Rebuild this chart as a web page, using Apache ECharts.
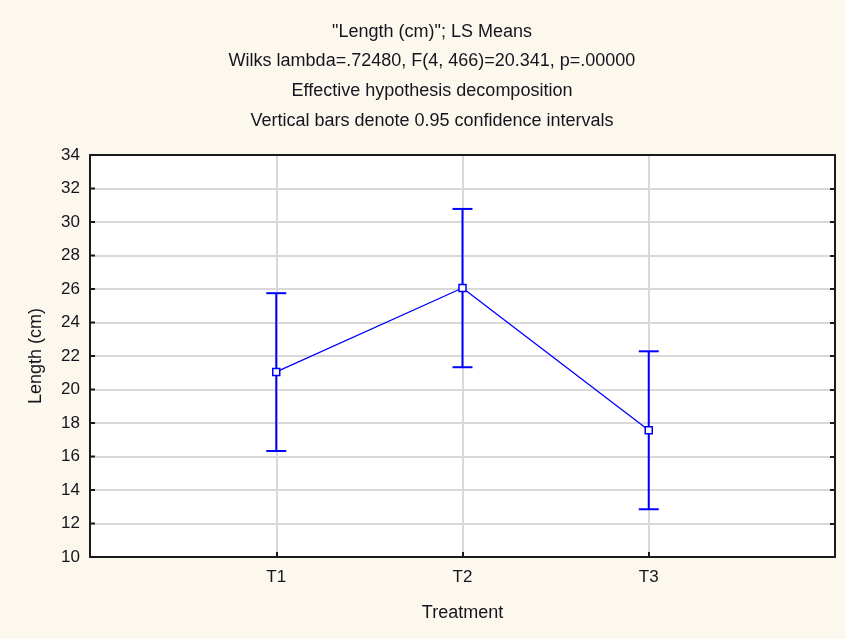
<!DOCTYPE html>
<html>
<head>
<meta charset="utf-8">
<script src="https://cdn.jsdelivr.net/npm/echarts@6/dist/echarts.min.js"></script>
<style>
  html, body { margin: 0; padding: 0; background: #fdf8ed; }
  #chart { width: 846px; height: 639px; }
</style>
</head>
<body>
<div id="chart"></div>
<script>
// Treatment groups and their least-squares means with 95% confidence limits
const categories = ['T1', 'T2', 'T3'];
const means = [21.05, 26.06, 17.57];
const lower = [16.33, 21.33, 12.85];
const upper = [25.75, 30.78, 22.28];
const yTicks = { min: 10, max: 34, interval: 2 };
const yTickValues = [12, 14, 16, 18, 20, 22, 24, 26, 28, 30, 32];

const titleLines = [
  '"Length (cm)"; LS Means',
  'Wilks lambda=.72480, F(4, 466)=20.341, p=.00000',
  'Effective hypothesis decomposition',
  'Vertical bars denote 0.95 confidence intervals'
];

const FONT = '"Liberation Sans", Arial, sans-serif';
const TEXT = '#15151f';
const BLUE = '#0000ff';
const FRAME = '#1a1a1a';
const GRIDLINE = '#d9d9d9';

const chart = echarts.init(document.getElementById('chart'), null, { renderer: 'canvas' });

const linePoints = means.map((m, i) => [i + 1, m]);
const barData = categories.map((c, i) => [i + 1, lower[i], upper[i]]);

const titleY = [32, 61, 91, 121];

// frame lines stay on the plot edges instead of snapping to zero
const frameLine = () => ({ show: true, onZero: false, lineStyle: { color: FRAME, width: 2 } });
const innerTick = () => ({ show: true, inside: true, length: 5, lineStyle: { color: FRAME, width: 2 } });
const hidden = () => ({ show: false });

chart.setOption({
  backgroundColor: '#fdf8ed',
  animation: false,
  graphic: titleLines.map((t, i) => ({
    type: 'text',
    x: 432,
    y: titleY[i],
    style: {
      text: t,
      font: '18px ' + FONT,
      fill: TEXT,
      textAlign: 'center',
      textVerticalAlign: 'middle'
    }
  })),
  grid: {
    left: 90, right: 11, top: 155, bottom: 82,
    show: true, backgroundColor: '#ffffff', borderWidth: 0
  },
  xAxis: [{
    type: 'value',
    z: 5,
    min: 0, max: 4, interval: 1,
    name: 'Treatment',
    nameLocation: 'middle',
    nameGap: 47,
    nameTextStyle: { fontFamily: FONT, fontSize: 18, color: TEXT },
    axisLine: frameLine(),
    axisTick: innerTick(),
    axisLabel: {
      margin: 12,
      fontFamily: FONT, fontSize: 17, color: TEXT,
      formatter: v => categories[v - 1] || ''
    },
    splitLine: hidden()
  }, {
    type: 'value',
    z: 5,
    position: 'top',
    min: 0, max: 4, interval: 1,
    axisLine: frameLine(),
    axisTick: hidden(),
    axisLabel: hidden(),
    splitLine: hidden()
  }, {
    // vertical gridlines only, kept beneath the frame
    type: 'value',
    z: 1,
    position: 'bottom',
    min: 0, max: 4, interval: 1,
    axisLine: hidden(),
    axisTick: hidden(),
    axisLabel: hidden(),
    splitLine: { show: true, lineStyle: { color: GRIDLINE, width: 2 } }
  }],
  yAxis: [{
    // horizontal gridlines only, kept beneath the frame
    type: 'value',
    z: 1,
    position: 'right',
    min: yTicks.min, max: yTicks.max, interval: yTicks.interval,
    axisLine: hidden(),
    axisTick: hidden(),
    axisLabel: hidden(),
    splitLine: { show: true, lineStyle: { color: GRIDLINE, width: 2 } }
  }, {
    type: 'value',
    z: 5,
    position: 'left',
    min: yTicks.min, max: yTicks.max, interval: yTicks.interval,
    name: 'Length (cm)',
    nameLocation: 'middle',
    nameGap: 45,
    nameTextStyle: { fontFamily: FONT, fontSize: 18, color: TEXT },
    axisLine: frameLine(),
    axisTick: hidden(),
    axisLabel: { margin: 10, fontFamily: FONT, fontSize: 17, color: TEXT },
    splitLine: hidden()
  }, {
    type: 'value',
    z: 5,
    position: 'right',
    min: yTicks.min, max: yTicks.max, interval: yTicks.interval,
    axisLine: frameLine(),
    axisTick: innerTick(),
    axisLabel: hidden(),
    splitLine: hidden()
  }],
  series: [{
    // short inward tick marks along the left frame edge
    type: 'custom',
    name: 'leftTicks',
    z: 6,
    silent: true,
    clip: false,
    xAxisIndex: 0,
    yAxisIndex: 1,
    data: yTickValues.map(v => [0, v]),
    renderItem: (params, api) => {
      const p = api.coord([api.value(0), api.value(1)]);
      return {
        type: 'line',
        shape: { x1: p[0], y1: p[1], x2: p[0] + 5, y2: p[1] },
        style: { stroke: FRAME, lineWidth: 2 }
      };
    }
  }, {
    type: 'custom',
    name: 'CI',
    z: 3,
    xAxisIndex: 0,
    yAxisIndex: 1,
    data: barData,
    renderItem: (params, api) => {
      const x = api.value(0);
      const lo = api.coord([x, api.value(1)]);
      const hi = api.coord([x, api.value(2)]);
      const half = 10;
      const style = { stroke: BLUE, lineWidth: 2, fill: null };
      return {
        type: 'group',
        children: [
          { type: 'line', shape: { x1: lo[0], y1: lo[1], x2: hi[0], y2: hi[1] }, style },
          { type: 'line', shape: { x1: hi[0] - half, y1: hi[1], x2: hi[0] + half, y2: hi[1] }, style },
          { type: 'line', shape: { x1: lo[0] - half, y1: lo[1], x2: lo[0] + half, y2: lo[1] }, style }
        ]
      };
    }
  }, {
    type: 'line',
    name: 'Mean',
    z: 4,
    xAxisIndex: 0,
    yAxisIndex: 1,
    data: linePoints,
    symbol: 'rect',
    symbolSize: 7,
    lineStyle: { color: BLUE, width: 1.3 },
    itemStyle: { color: '#ffffff', borderColor: BLUE, borderWidth: 1.5 }
  }]
});
</script>
</body>
</html>
